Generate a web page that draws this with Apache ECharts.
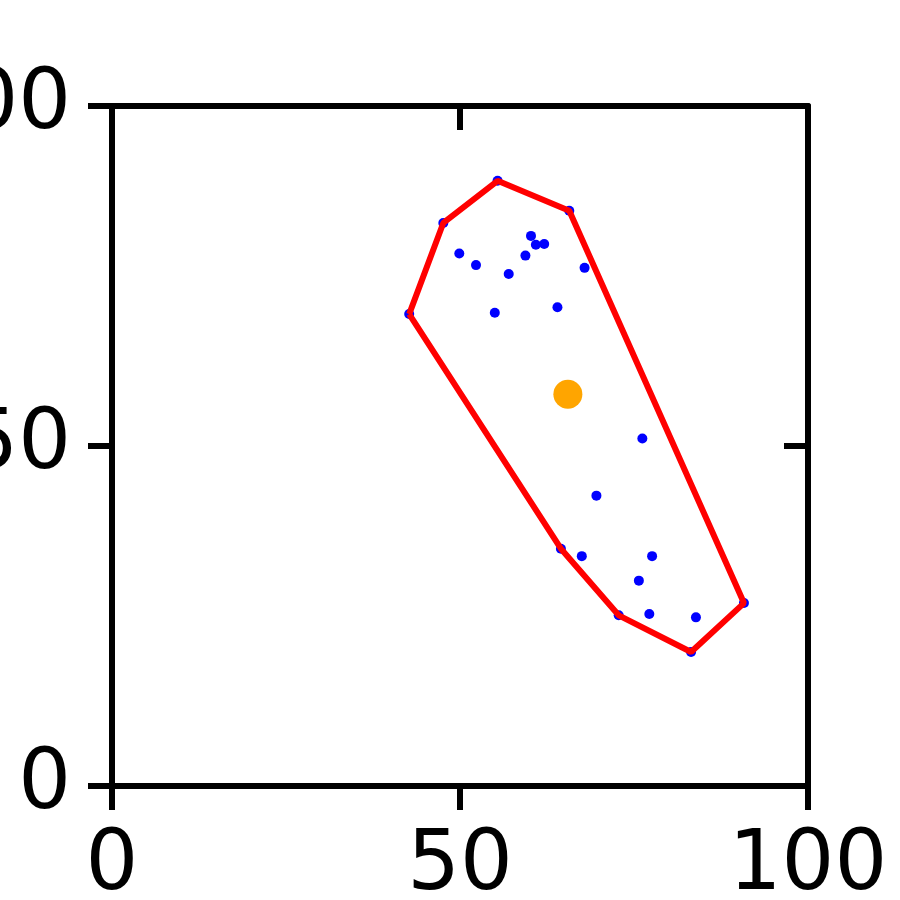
<!DOCTYPE html>
<html>
<head>
<meta charset="utf-8">
<script src="https://cdn.jsdelivr.net/npm/echarts@6/dist/echarts.min.js"></script>
<style>html,body{margin:0;padding:0;background:#fff}#c{width:900px;height:900px}</style>
</head>
<body>
<div id="c"></div>
<script>
const pointsX = [55.4, 65.7, 47.6, 42.7, 60.2, 60.9, 62.1, 49.9, 52.3, 59.4, 57.0, 67.9, 55.0, 64.0,
                 76.2, 69.6, 64.5, 67.5, 77.6, 75.7, 72.8, 77.2, 83.9, 83.2, 90.8];
const pointsY = [89.0, 84.6, 82.8, 69.4, 80.9, 79.6, 79.7, 78.3, 76.6, 78.0, 75.3, 76.2, 69.6, 70.4,
                 51.1, 42.7, 34.9, 33.8, 33.8, 30.2, 25.1, 25.3, 24.8, 19.7, 26.9];
const hullOrder = [3, 2, 0, 1, 24, 23, 20, 16, 3];
const centroid = [65.5, 57.6];
const tickValues = [0, 50, 100];

const pts = pointsX.map((x, i) => [x, pointsY[i]]);
const hull = hullOrder.map(i => pts[i]);

const FS = 83;
const axisCommon = {
  min: 0, max: 100, interval: 50,
  splitLine: {show: false},
  axisLine: {show: true, onZero: false, lineStyle: {color: '#000', width: 6}},
};
const chart = echarts.init(document.getElementById('c'), null, {renderer: 'canvas'});
chart.setOption({
  animation: false,
  grid: {left: 112, top: 106, right: 92, bottom: 114, containLabel: false, outerBoundsMode: 'none'},
  xAxis: [
    Object.assign({type: 'value', position: 'bottom',
      axisTick: {show: true, inside: false, length: 24, lineStyle: {color: '#000', width: 6}},
      axisLabel: {show: true, fontSize: FS, color: '#000', fontFamily: 'DejaVu Sans', margin: 40,
        formatter: v => tickValues.includes(v) ? String(v) : ''}}, axisCommon),
    Object.assign({type: 'value', position: 'top',
      axisTick: {show: true, inside: true, length: 24, lineStyle: {color: '#000', width: 6}},
      axisLabel: {show: false}}, axisCommon)
  ],
  yAxis: [
    Object.assign({type: 'value', position: 'left',
      axisTick: {show: true, inside: false, length: 24, lineStyle: {color: '#000', width: 6}},
      axisLabel: {show: true, fontSize: FS, color: '#000', fontFamily: 'DejaVu Sans', margin: 41,
        formatter: v => tickValues.includes(v) ? String(v) : ''}}, axisCommon),
    Object.assign({type: 'value', position: 'right',
      axisTick: {show: true, inside: true, length: 24, lineStyle: {color: '#000', width: 6}},
      axisLabel: {show: false}}, axisCommon)
  ],
  series: [
    {type: 'scatter', data: pts, symbolSize: 10, itemStyle: {color: '#0000ff', opacity: 1}, z: 2},
    {type: 'line', data: hull, showSymbol: false, symbol: 'none', lineStyle: {color: '#ff0000', width: 6}, z: 3},
    {type: 'scatter', data: [centroid], symbolSize: 29, itemStyle: {color: '#ffa500', opacity: 1}, z: 4}
  ]
});
</script>
</body>
</html>
